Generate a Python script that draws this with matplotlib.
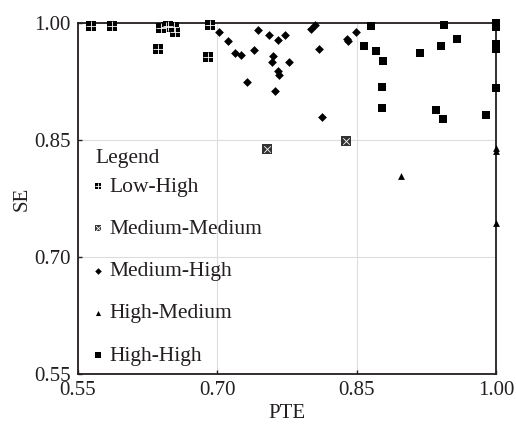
import matplotlib.pyplot as plt
from matplotlib.legend_handler import HandlerTuple

plt.rcParams['font.family'] = ['Liberation Serif', 'DejaVu Serif']

# Low-High
lh_x = [0.564, 0.587, 0.639, 0.645, 0.647, 0.653, 0.654, 0.636, 0.6925, 0.690]
lh_y = [0.996, 0.996, 0.993, 0.995, 0.9965, 0.995, 0.988, 0.966, 0.997, 0.956]

# Medium-Medium
mm_x = [0.754, 0.839]
mm_y = [0.839, 0.849]

# Medium-High
mh_x = [0.702, 0.712, 0.719, 0.726, 0.732, 0.740, 0.7435, 0.756, 0.760, 0.759,
        0.762, 0.765, 0.767, 0.765, 0.773, 0.777, 0.801, 0.8055, 0.810, 0.813,
        0.840, 0.841, 0.849]
mh_y = [0.989, 0.977, 0.961, 0.959, 0.924, 0.965, 0.991, 0.985, 0.958, 0.950,
        0.913, 0.938, 0.933, 0.978, 0.985, 0.950, 0.992, 0.997, 0.966, 0.880,
        0.980, 0.977, 0.988]

# High-Medium
hm_x = [0.8975, 1.0, 1.0, 1.0]
hm_y = [0.8035, 0.840, 0.836, 0.744]

# High-High
hh_x = [0.866, 0.858, 0.871, 0.878, 0.877, 0.877, 0.918, 0.9355, 0.943, 0.9405,
        0.944, 0.958, 0.989, 1.0, 1.0, 1.0, 1.0, 1.0]
hh_y = [0.996, 0.971, 0.964, 0.951, 0.918, 0.891, 0.9615, 0.888, 0.877, 0.970,
        0.998, 0.980, 0.882, 1.0, 0.995, 0.973, 0.966, 0.917]

ink = '#231f20'

fig = plt.figure(figsize=(5.16, 4.25), dpi=100)
ax = fig.add_axes([0.151, 0.12, 0.81, 0.826])

lh1 = ax.scatter(lh_x, lh_y, marker='s', s=44, color='black', linewidths=0, clip_on=False, zorder=3)
lh2 = ax.scatter(lh_x, lh_y, marker='+', s=44, color='white', linewidths=0.6, clip_on=False, zorder=4)
mm1 = ax.scatter(mm_x, mm_y, marker='s', s=44, color='#333333', linewidths=0, clip_on=False, zorder=3)
mm2 = ax.scatter(mm_x, mm_y, marker='x', s=22, color='white', linewidths=0.6, clip_on=False, zorder=4)
mh = ax.scatter(mh_x, mh_y, marker='D', s=20, color='black', linewidths=0, clip_on=False, zorder=3)
hm = ax.scatter(hm_x, hm_y, marker='^', s=24, color='black', linewidths=0, clip_on=False, zorder=3)
hh = ax.scatter(hh_x, hh_y, marker='s', s=36, color='black', linewidths=0, clip_on=False, zorder=3)

ax.set_xlim(0.55, 1.00)
ax.set_ylim(0.55, 1.00)
ax.set_xticks([0.55, 0.70, 0.85, 1.00])
ax.set_yticks([0.55, 0.70, 0.85, 1.00])
ax.set_xticklabels(['0.55', '0.70', '0.85', '1.00'])
ax.set_yticklabels(['0.55', '0.70', '0.85', '1.00'])
ax.tick_params(direction='in', length=3, width=1, colors=ink, labelsize=15)
ax.tick_params(axis='x', pad=5)
ax.tick_params(axis='y', pad=5)
ax.grid(True, color='#dddddd', linewidth=0.8, zorder=0)
ax.set_axisbelow(True)
for sp in ax.spines.values():
    sp.set_color(ink)
    sp.set_linewidth(1.3)

ax.set_xlabel('PTE', fontsize=15, color=ink, labelpad=3)
ax.set_ylabel('SE', fontsize=15, color=ink, labelpad=2)

ax.text(0.041, 0.615, 'Legend', transform=ax.transAxes, fontsize=15.5,
        color=ink, ha='left', va='center')

leg = ax.legend([(lh1, lh2), (mm1, mm2), mh, hm, hh],
                ['Low-High', 'Medium-Medium', 'Medium-High', 'High-Medium', 'High-High'],
                handler_map={tuple: HandlerTuple(ndivide=1)},
                loc='upper left', bbox_to_anchor=(0.0, 0.605),
                frameon=False, fontsize=15.5,
                handlelength=0.5, handletextpad=0.25, labelspacing=1.03,
                borderaxespad=0.3, markerscale=0.75)
for t in leg.get_texts():
    t.set_color(ink)

fig.savefig('out.png', dpi=100)
